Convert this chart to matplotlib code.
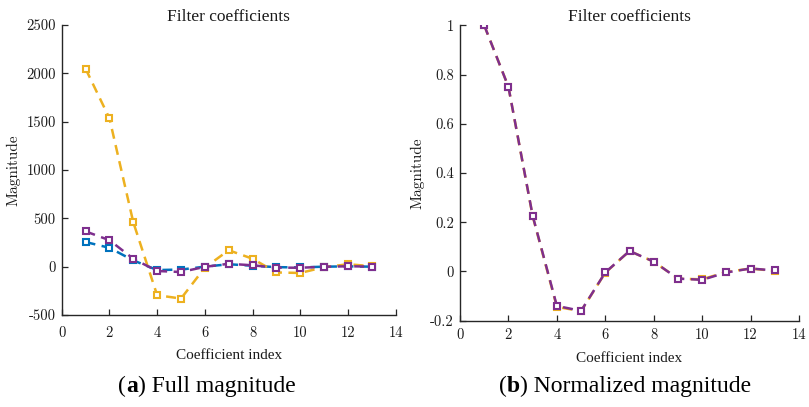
import matplotlib
matplotlib.use("Agg")
import matplotlib.pyplot as plt
from matplotlib.offsetbox import TextArea, HPacker, AnnotationBbox

plt.rcParams['axes.unicode_minus'] = False

# ---- data ----
coef_index = [1, 2, 3, 4, 5, 6, 7, 8, 9, 10, 11, 12, 13]
full_blue = [255, 195, 65, -35, -30, 0, 25, 10, -5, -8, 0, 3, 0]
full_orange = [2048, 1536, 460, -295, -330, -10, 170, 82, -60, -65, -5, 25, 5]
full_purple = [365, 274, 82, -45, -55, -2, 30, 14, -10, -11, -1, 4, 1]
norm_orange = [1.0, 0.75, 0.225, -0.144, -0.161, -0.005, 0.083, 0.040, -0.029, -0.032, -0.002, 0.012, 0.002]
norm_purple = [1.0, 0.75, 0.227, -0.140, -0.160, -0.004, 0.083, 0.040, -0.029, -0.034, -0.004, 0.012, 0.004]

x_ticks = [0, 2, 4, 6, 8, 10, 12, 14]
x_ticklabels = ['0', '2', '4', '6', '8', '10', '12', '14']
left_yticks = [-500, 0, 500, 1000, 1500, 2000, 2500]
left_yticklabels = ['-500', '0', '500', '1000', '1500', '2000', '2500']
right_yticks = [-0.2, 0, 0.2, 0.4, 0.6, 0.8, 1.0]
right_yticklabels = ['-0.2', '0', '0.2', '0.4', '0.6', '0.8', '1']

title_text = 'Filter coefficients'
xlabel_text = 'Coefficient index'
ylabel_text = 'Magnitude'
caption_a = 'Full magnitude'
caption_b = 'Normalized magnitude'

BLUE = '#0072BD'
ORANGE = '#EDB120'
PURPLE = '#7E2F8E'
SPINE = '#262626'
TEXT = '#1a1a1a'

W, H = 809, 407
fig = plt.figure(figsize=(W / 100, H / 100), dpi=100)

ax1 = fig.add_axes([61.7 / W, 1 - 315 / H, (395.7 - 61.7) / W, (315 - 25) / H])
ax2 = fig.add_axes([460 / W, 1 - 320.7 / H, (799 - 460) / W, (320.7 - 25.3) / H])

style = dict(linestyle=(0, (4.0, 2.6)), linewidth=1.8, marker='s', markersize=4.6,
             markeredgewidth=1.5, markerfacecolor='white')

ax1.plot(coef_index, full_blue, color=BLUE, **style)
ax1.plot(coef_index, full_orange, color=ORANGE, **style)
ax1.plot(coef_index, full_purple, color=PURPLE, **style)

ax2.plot(coef_index, norm_orange, color=ORANGE, **style)
ax2.plot(coef_index, norm_purple, color=PURPLE, **style)

tick_font = dict(family='cmr10', size=10.5)

for ax, yt, ytl, ylim, xpad, xlpad in [
        (ax1, left_yticks, left_yticklabels, (-500, 2500), 8.0, 6.5),
        (ax2, right_yticks, right_yticklabels, (-0.2, 1.0), 5.5, 7.0)]:
    ax.set_xlim(0, 14)
    ax.set_ylim(*ylim)
    ax.set_xticks(x_ticks)
    ax.set_xticklabels(x_ticklabels, fontdict=tick_font, color=TEXT)
    ax.set_yticks(yt)
    ax.set_yticklabels(ytl, fontdict=tick_font, color=TEXT)
    for s in ['top', 'right']:
        ax.spines[s].set_visible(False)
    for s in ['left', 'bottom']:
        ax.spines[s].set_color(SPINE)
        ax.spines[s].set_linewidth(1.0)
    ax.tick_params(direction='in', length=4, width=0.9, color=SPINE)
    ax.tick_params(axis='x', pad=xpad)
    ax.tick_params(axis='y', pad=4.3)
    ax.set_title(title_text, family='Liberation Serif', fontsize=12.5, color=TEXT, pad=2)
    ax.set_xlabel(xlabel_text, family='Liberation Serif', fontsize=11, color=TEXT, labelpad=xlpad)
    ax.set_ylabel(ylabel_text, family='cmr10', fontsize=11, color=TEXT, labelpad=4)


def add_caption(xc, letter, text):
    parts = [
        TextArea('(', textprops=dict(family='Liberation Serif', fontsize=17, color='black')),
        TextArea(letter, textprops=dict(family='Liberation Serif', fontsize=17,
                                        fontweight='bold', color='black')),
        TextArea(') ' + text, textprops=dict(family='Liberation Serif', fontsize=17, color='black')),
    ]
    box = HPacker(children=parts, align='baseline', pad=0, sep=0)
    ab = AnnotationBbox(box, (xc / W, 1 - 386 / H), xycoords='figure fraction',
                        frameon=False, box_alignment=(0.5, 0.5))
    fig.add_artist(ab)


add_caption(207, 'a', caption_a)
add_caption(625, 'b', caption_b)

fig.savefig('out.png', dpi=100)
